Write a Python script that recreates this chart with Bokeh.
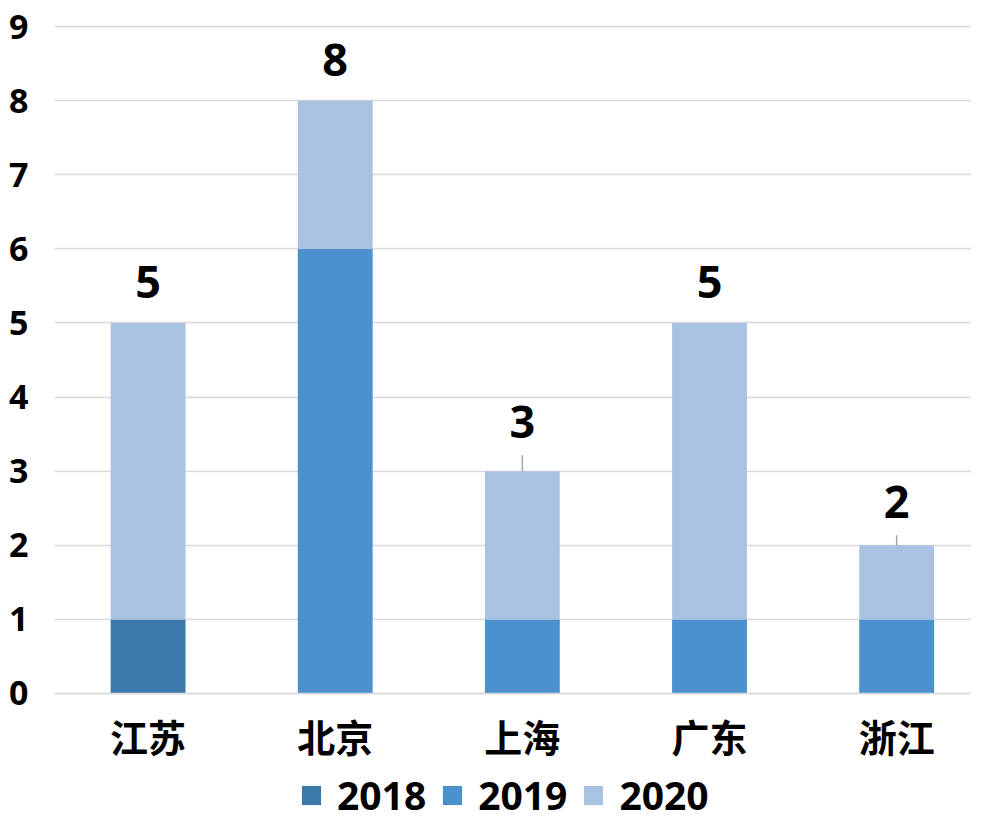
from bokeh.plotting import figure
from bokeh.models import Range1d, FixedTicker, ColumnDataSource, LabelSet, Legend, LegendItem
from bokeh.core.properties import value
from bokeh.embed import file_html
from bokeh.resources import INLINE

categories = ["江苏", "北京", "上海", "广东", "浙江"]
years = ["2018", "2019", "2020"]
v2018 = [1, 0, 0, 0, 0]
v2019 = [0, 6, 1, 1, 1]
v2020 = [4, 2, 2, 4, 1]
y_ticks = [0, 1, 2, 3, 4, 5, 6, 7, 8, 9]

colors = ["#3C78A9", "#4A91CE", "#A9C2E1"]
label_lift = [41, 41, 49, 41, 43]  # px above bar top (label centre)
CJK = "Noto Sans CJK SC"
LAT = "Open Sans"

xs = list(range(len(categories)))
totals = [a + b + c for a, b, c in zip(v2018, v2019, v2020)]
src = ColumnDataSource(dict(x=xs, y2018=v2018, y2019=v2019, y2020=v2020,
                            total=totals, label=[str(t) for t in totals],
                            lift=label_lift))

W, H = 971, 824
TOP, LEFT = 18, 54
PX_PER_UNIT = 74.11
y_end = 9 + 8 / PX_PER_UNIT
y_start = -(H - 693) / PX_PER_UNIT
p = figure(width=W, height=H, output_backend="svg", toolbar_location=None,
           x_range=Range1d(-0.5, 4.40), y_range=Range1d(y_start, y_end),
           min_border_left=LEFT, min_border_right=0, min_border_top=TOP,
           min_border_bottom=0)
p.outline_line_color = None
p.background_fill_color = "white"
p.border_fill_color = "white"

rs = p.vbar_stack(["y2018", "y2019", "y2020"], x="x", width=0.4, source=src,
                  color=colors, line_color=None)

# leader lines for labels that were lifted further
lx, ly0, ly1 = [], [], []
for xi, t, l in zip(xs, totals, label_lift):
    if l > 42:
        lx.append(xi)
        ly0.append(t)
        ly1.append(t + (l - 33) / PX_PER_UNIT)
p.segment(x0=lx, y0=ly0, x1=lx, y1=ly1, line_color="#A6A6A6", line_width=1.5)

labels = LabelSet(x="x", y="total", text="label", y_offset="lift", source=src,
                  text_align="center", text_baseline="middle",
                  text_font=value(LAT), text_font_style="bold", text_font_size="45px",
                  text_color="black")
p.add_layout(labels)

p.ygrid.grid_line_color = "#D9D9D9"
p.ygrid.grid_line_width = 1.5
p.xgrid.grid_line_color = None

p.yaxis.ticker = FixedTicker(ticks=y_ticks)
p.yaxis.axis_line_color = None
p.yaxis.major_tick_line_color = None
p.yaxis.minor_tick_line_color = None
p.yaxis.major_label_standoff = 20
p.yaxis.major_label_text_font = LAT
p.yaxis.major_label_text_font_style = "bold"
p.yaxis.major_label_text_font_size = "34px"
p.yaxis.major_label_text_color = "black"

p.xaxis.fixed_location = 0
p.xaxis.ticker = FixedTicker(ticks=xs)
p.xaxis.major_label_overrides = {i: c for i, c in zip(xs, categories)}
p.xaxis.axis_line_color = "#D9D9D9"
p.xaxis.axis_line_width = 1.5
p.xaxis.major_tick_line_color = None
p.xaxis.minor_tick_line_color = None
p.xaxis.major_label_standoff = 9
p.xaxis.major_label_text_font = CJK
p.xaxis.major_label_text_font_style = "bold"
p.xaxis.major_label_text_font_size = "38px"
p.xaxis.major_label_text_color = "black"

legend = Legend(items=[LegendItem(label=y, renderers=[r]) for y, r in zip(years, rs)],
                orientation="horizontal", location=(245, 3),
                label_text_font=LAT, label_text_font_style="bold",
                label_text_font_size="39px", label_text_color="black",
                glyph_width=24, glyph_height=24, label_standoff=14, spacing=14,
                padding=0, margin=0, border_line_color=None,
                background_fill_alpha=0, label_height=24)
p.add_layout(legend, "center")

open("out.html", "w").write(file_html(p, INLINE))
